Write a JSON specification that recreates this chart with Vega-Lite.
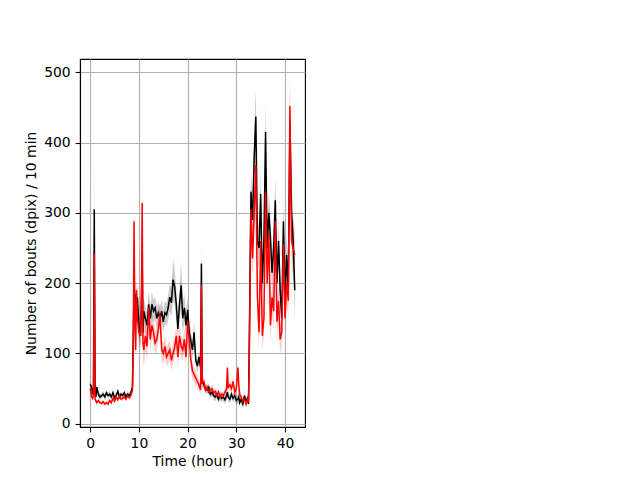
{
"$schema": "https://vega.github.io/schema/vega-lite/v6.json",
"autosize": {"type": "none"},
"padding": {"left": 80, "top": 59, "right": 335, "bottom": 53},
"width": 225,
"height": 368,
"background": "white",
"config": {
  "font": "DejaVu Sans",
  "view": {"stroke": "black", "strokeWidth": 1.1},
  "axis": {"domainColor": "black", "domainWidth": 1.1, "tickColor": "black", "tickSize": 4.9, "tickWidth": 1.1, "labelFontSize": 13.9, "labelColor": "black", "labelPadding": 4.9, "titleFontSize": 13.9, "titleFontWeight": "normal", "titleColor": "black", "gridColor": "#b0b0b0", "gridWidth": 1.1, "gridOpacity": 1, "labelFont": "DejaVu Sans", "titleFont": "DejaVu Sans"}
},
"data": {"values": [
{"t":0,"b":56,"bl":52,"bh":60,"r":50,"rl":46,"rh":54},
{"t":0.17,"b":54,"bl":50,"bh":58,"r":42,"rl":38,"rh":46},
{"t":0.33,"b":50,"bl":46,"bh":54,"r":38,"rl":35,"rh":41},
{"t":0.5,"b":42,"bl":38,"bh":46,"r":36,"rl":33,"rh":39},
{"t":0.67,"b":48,"bl":43,"bh":53,"r":40,"rl":36,"rh":44},
{"t":0.83,"b":305,"bl":250,"bh":360,"r":242,"rl":192,"rh":292},
{"t":1.0,"b":45,"bl":40,"bh":50,"r":35,"rl":32,"rh":38},
{"t":1.17,"b":38,"bl":34,"bh":42,"r":32,"rl":29,"rh":35},
{"t":1.33,"b":52,"bl":47,"bh":57,"r":30,"rl":27,"rh":33},
{"t":1.67,"b":42,"bl":38,"bh":46,"r":33,"rl":30,"rh":36},
{"t":2.0,"b":38,"bl":34,"bh":42,"r":30,"rl":27,"rh":33},
{"t":2.33,"b":40,"bl":36,"bh":44,"r":29,"rl":26,"rh":32},
{"t":2.67,"b":42,"bl":38,"bh":46,"r":31,"rl":28,"rh":34},
{"t":3.0,"b":38,"bl":34,"bh":42,"r":28,"rl":25,"rh":31},
{"t":3.33,"b":44,"bl":40,"bh":48,"r":30,"rl":27,"rh":33},
{"t":3.67,"b":40,"bl":36,"bh":44,"r":28,"rl":25,"rh":31},
{"t":4.0,"b":42,"bl":38,"bh":46,"r":33,"rl":30,"rh":36},
{"t":4.33,"b":38,"bl":34,"bh":42,"r":30,"rl":27,"rh":33},
{"t":4.67,"b":44,"bl":40,"bh":48,"r":36,"rl":33,"rh":39},
{"t":5.0,"b":37,"bl":33,"bh":41,"r":32,"rl":29,"rh":35},
{"t":5.33,"b":40,"bl":36,"bh":44,"r":38,"rl":35,"rh":41},
{"t":5.67,"b":46,"bl":42,"bh":50,"r":34,"rl":31,"rh":37},
{"t":6.0,"b":38,"bl":34,"bh":42,"r":40,"rl":37,"rh":43},
{"t":6.33,"b":42,"bl":38,"bh":46,"r":35,"rl":32,"rh":38},
{"t":6.67,"b":40,"bl":36,"bh":44,"r":36,"rl":33,"rh":39},
{"t":7.0,"b":44,"bl":40,"bh":48,"r":38,"rl":35,"rh":41},
{"t":7.33,"b":38,"bl":34,"bh":42,"r":35,"rl":32,"rh":38},
{"t":7.67,"b":42,"bl":38,"bh":46,"r":40,"rl":37,"rh":43},
{"t":8.0,"b":40,"bl":36,"bh":44,"r":37,"rl":34,"rh":40},
{"t":8.33,"b":44,"bl":40,"bh":48,"r":40,"rl":36,"rh":44},
{"t":8.67,"b":52,"bl":46,"bh":58,"r":48,"rl":43,"rh":53},
{"t":8.83,"b":120,"bl":105,"bh":135,"r":110,"rl":95,"rh":125},
{"t":9.0,"b":200,"bl":170,"bh":230,"r":288,"rl":253,"rh":323},
{"t":9.17,"b":150,"bl":130,"bh":170,"r":140,"rl":120,"rh":160},
{"t":9.33,"b":185,"bl":165,"bh":205,"r":105,"rl":87,"rh":123},
{"t":9.5,"b":160,"bl":140,"bh":180,"r":190,"rl":170,"rh":210},
{"t":9.67,"b":180,"bl":160,"bh":200,"r":150,"rl":130,"rh":170},
{"t":10.0,"b":140,"bl":122,"bh":158,"r":130,"rl":112,"rh":148},
{"t":10.33,"b":125,"bl":110,"bh":140,"r":125,"rl":107,"rh":143},
{"t":10.5,"b":170,"bl":150,"bh":190,"r":170,"rl":150,"rh":190},
{"t":10.67,"b":230,"bl":195,"bh":265,"r":314,"rl":274,"rh":354},
{"t":10.83,"b":130,"bl":112,"bh":148,"r":115,"rl":95,"rh":135},
{"t":11.0,"b":160,"bl":142,"bh":178,"r":105,"rl":80,"rh":130},
{"t":11.33,"b":150,"bl":132,"bh":168,"r":125,"rl":105,"rh":145},
{"t":11.67,"b":140,"bl":122,"bh":158,"r":110,"rl":90,"rh":130},
{"t":12.0,"b":170,"bl":152,"bh":188,"r":165,"rl":145,"rh":185},
{"t":12.33,"b":150,"bl":132,"bh":168,"r":120,"rl":102,"rh":138},
{"t":12.67,"b":170,"bl":152,"bh":188,"r":140,"rl":122,"rh":158},
{"t":13.0,"b":160,"bl":144,"bh":176,"r":130,"rl":114,"rh":146},
{"t":13.33,"b":165,"bl":149,"bh":181,"r":115,"rl":99,"rh":131},
{"t":13.67,"b":150,"bl":134,"bh":166,"r":120,"rl":104,"rh":136},
{"t":14.0,"b":158,"bl":142,"bh":174,"r":135,"rl":119,"rh":151},
{"t":14.33,"b":150,"bl":134,"bh":166,"r":155,"rl":139,"rh":171},
{"t":14.67,"b":160,"bl":144,"bh":176,"r":105,"rl":90,"rh":120},
{"t":15.0,"b":145,"bl":129,"bh":161,"r":100,"rl":85,"rh":115},
{"t":15.33,"b":158,"bl":142,"bh":174,"r":110,"rl":95,"rh":125},
{"t":15.67,"b":155,"bl":139,"bh":171,"r":95,"rl":81,"rh":109},
{"t":16.0,"b":165,"bl":147,"bh":183,"r":100,"rl":86,"rh":114},
{"t":16.33,"b":180,"bl":160,"bh":200,"r":105,"rl":91,"rh":119},
{"t":16.67,"b":172,"bl":152,"bh":192,"r":90,"rl":76,"rh":104},
{"t":17.0,"b":205,"bl":175,"bh":235,"r":100,"rl":85,"rh":115},
{"t":17.33,"b":195,"bl":170,"bh":220,"r":108,"rl":93,"rh":123},
{"t":17.67,"b":170,"bl":148,"bh":192,"r":125,"rl":109,"rh":141},
{"t":18.0,"b":135,"bl":115,"bh":155,"r":95,"rl":80,"rh":110},
{"t":18.33,"b":170,"bl":148,"bh":192,"r":125,"rl":109,"rh":141},
{"t":18.67,"b":197,"bl":162,"bh":232,"r":110,"rl":94,"rh":126},
{"t":19.0,"b":150,"bl":128,"bh":172,"r":105,"rl":90,"rh":120},
{"t":19.33,"b":165,"bl":145,"bh":185,"r":120,"rl":104,"rh":136},
{"t":19.67,"b":140,"bl":122,"bh":158,"r":95,"rl":80,"rh":110},
{"t":20.0,"b":162,"bl":144,"bh":180,"r":145,"rl":129,"rh":161},
{"t":20.33,"b":130,"bl":114,"bh":146,"r":120,"rl":105,"rh":135},
{"t":20.67,"b":118,"bl":104,"bh":132,"r":90,"rl":77,"rh":103},
{"t":21.0,"b":105,"bl":93,"bh":117,"r":75,"rl":63,"rh":87},
{"t":21.33,"b":130,"bl":116,"bh":144,"r":70,"rl":59,"rh":81},
{"t":21.67,"b":90,"bl":80,"bh":100,"r":65,"rl":55,"rh":75},
{"t":22.0,"b":82,"bl":72,"bh":92,"r":60,"rl":51,"rh":69},
{"t":22.33,"b":95,"bl":85,"bh":105,"r":55,"rl":47,"rh":63},
{"t":22.67,"b":80,"bl":70,"bh":90,"r":48,"rl":41,"rh":55},
{"t":22.83,"b":228,"bl":203,"bh":253,"r":197,"rl":172,"rh":222},
{"t":23.0,"b":60,"bl":52,"bh":68,"r":58,"rl":51,"rh":65},
{"t":23.33,"b":55,"bl":48,"bh":62,"r":60,"rl":53,"rh":67},
{"t":23.67,"b":50,"bl":44,"bh":56,"r":48,"rl":42,"rh":54},
{"t":24.0,"b":48,"bl":42,"bh":54,"r":52,"rl":46,"rh":58},
{"t":24.33,"b":52,"bl":46,"bh":58,"r":45,"rl":40,"rh":50},
{"t":24.67,"b":42,"bl":36,"bh":48,"r":48,"rl":43,"rh":53},
{"t":25.0,"b":45,"bl":39,"bh":51,"r":50,"rl":45,"rh":55},
{"t":25.33,"b":40,"bl":34,"bh":46,"r":44,"rl":39,"rh":49},
{"t":25.67,"b":38,"bl":32,"bh":44,"r":46,"rl":41,"rh":51},
{"t":26.0,"b":42,"bl":36,"bh":48,"r":40,"rl":35,"rh":45},
{"t":26.33,"b":35,"bl":29,"bh":41,"r":45,"rl":40,"rh":50},
{"t":26.67,"b":40,"bl":34,"bh":46,"r":38,"rl":33,"rh":43},
{"t":27.0,"b":36,"bl":30,"bh":42,"r":42,"rl":37,"rh":47},
{"t":27.33,"b":38,"bl":32,"bh":44,"r":40,"rl":35,"rh":45},
{"t":27.67,"b":34,"bl":28,"bh":40,"r":45,"rl":40,"rh":50},
{"t":28.0,"b":40,"bl":34,"bh":46,"r":50,"rl":44,"rh":56},
{"t":28.17,"b":45,"bl":39,"bh":51,"r":80,"rl":72,"rh":88},
{"t":28.33,"b":38,"bl":32,"bh":44,"r":52,"rl":46,"rh":58},
{"t":28.67,"b":35,"bl":29,"bh":41,"r":55,"rl":49,"rh":61},
{"t":29.0,"b":42,"bl":36,"bh":48,"r":50,"rl":44,"rh":56},
{"t":29.33,"b":36,"bl":30,"bh":42,"r":60,"rl":54,"rh":66},
{"t":29.67,"b":40,"bl":34,"bh":46,"r":45,"rl":39,"rh":51},
{"t":30.0,"b":33,"bl":27,"bh":39,"r":50,"rl":44,"rh":56},
{"t":30.33,"b":35,"bl":29,"bh":41,"r":80,"rl":72,"rh":88},
{"t":30.5,"b":38,"bl":32,"bh":44,"r":55,"rl":49,"rh":61},
{"t":30.67,"b":30,"bl":25,"bh":35,"r":42,"rl":37,"rh":47},
{"t":31.0,"b":35,"bl":30,"bh":40,"r":38,"rl":33,"rh":43},
{"t":31.33,"b":28,"bl":23,"bh":33,"r":32,"rl":27,"rh":37},
{"t":31.67,"b":40,"bl":35,"bh":45,"r":35,"rl":30,"rh":40},
{"t":32.0,"b":30,"bl":25,"bh":35,"r":28,"rl":23,"rh":33},
{"t":32.33,"b":38,"bl":33,"bh":43,"r":35,"rl":30,"rh":40},
{"t":32.5,"b":28,"bl":23,"bh":33,"r":30,"rl":25,"rh":35},
{"t":32.67,"b":120,"bl":105,"bh":135,"r":100,"rl":85,"rh":115},
{"t":33.0,"b":330,"bl":300,"bh":360,"r":305,"rl":275,"rh":335},
{"t":33.33,"b":290,"bl":260,"bh":320,"r":235,"rl":205,"rh":265},
{"t":33.67,"b":380,"bl":345,"bh":415,"r":300,"rl":265,"rh":335},
{"t":34.0,"b":437,"bl":397,"bh":477,"r":368,"rl":328,"rh":408},
{"t":34.33,"b":260,"bl":230,"bh":290,"r":180,"rl":150,"rh":210},
{"t":34.67,"b":250,"bl":220,"bh":280,"r":130,"rl":105,"rh":155},
{"t":35.0,"b":327,"bl":292,"bh":362,"r":260,"rl":230,"rh":290},
{"t":35.33,"b":200,"bl":175,"bh":225,"r":125,"rl":105,"rh":145},
{"t":35.67,"b":260,"bl":230,"bh":290,"r":150,"rl":125,"rh":175},
{"t":36.0,"b":415,"bl":375,"bh":455,"r":330,"rl":290,"rh":370},
{"t":36.33,"b":250,"bl":220,"bh":280,"r":200,"rl":170,"rh":230},
{"t":36.67,"b":300,"bl":270,"bh":330,"r":270,"rl":240,"rh":300},
{"t":37.0,"b":265,"bl":235,"bh":295,"r":140,"rl":115,"rh":165},
{"t":37.33,"b":215,"bl":190,"bh":240,"r":180,"rl":155,"rh":205},
{"t":37.67,"b":250,"bl":220,"bh":280,"r":160,"rl":135,"rh":185},
{"t":38.0,"b":318,"bl":283,"bh":353,"r":288,"rl":253,"rh":323},
{"t":38.33,"b":200,"bl":175,"bh":225,"r":145,"rl":120,"rh":170},
{"t":38.67,"b":260,"bl":230,"bh":290,"r":175,"rl":150,"rh":200},
{"t":39.0,"b":190,"bl":165,"bh":215,"r":120,"rl":100,"rh":140},
{"t":39.33,"b":150,"bl":130,"bh":170,"r":130,"rl":110,"rh":150},
{"t":39.67,"b":288,"bl":253,"bh":323,"r":255,"rl":220,"rh":290},
{"t":40.0,"b":175,"bl":150,"bh":200,"r":150,"rl":125,"rh":175},
{"t":40.33,"b":240,"bl":210,"bh":270,"r":200,"rl":170,"rh":230},
{"t":40.67,"b":190,"bl":165,"bh":215,"r":175,"rl":150,"rh":200},
{"t":41.0,"b":430,"bl":385,"bh":475,"r":452,"rl":407,"rh":497},
{"t":41.33,"b":300,"bl":260,"bh":340,"r":260,"rl":220,"rh":300},
{"t":41.67,"b":260,"bl":220,"bh":300,"r":250,"rl":210,"rh":290},
{"t":42.0,"b":190,"bl":145,"bh":235,"r":240,"rl":200,"rh":280}
]},
"encoding": {
  "x": {"field": "t", "type": "quantitative", "scale": {"domain": [-2.1, 44.1], "nice": false, "zero": false}, "axis": {"values": [0, 10, 20, 30, 40], "title": "Time (hour)", "titlePadding": 4, "grid": true}}
},
"layer": [
  {"mark": {"type": "area", "color": "black", "opacity": 0.2, "clip": true},
   "encoding": {"y": {"field": "bl", "type": "quantitative", "scale": {"domain": [-4.7, 519], "nice": false, "zero": false}, "axis": {"values": [0, 100, 200, 300, 400, 500], "title": "Number of bouts (dpix) / 10 min", "titlePadding": 5, "grid": true}}, "y2": {"field": "bh"}}},
  {"mark": {"type": "area", "color": "red", "opacity": 0.2, "clip": true},
   "encoding": {"y": {"field": "rl", "type": "quantitative"}, "y2": {"field": "rh"}}},
  {"mark": {"type": "line", "color": "black", "strokeWidth": 1.5, "clip": true},
   "encoding": {"y": {"field": "b", "type": "quantitative"}}},
  {"mark": {"type": "line", "color": "red", "strokeWidth": 1.5, "clip": true},
   "encoding": {"y": {"field": "r", "type": "quantitative"}}}
]
}
